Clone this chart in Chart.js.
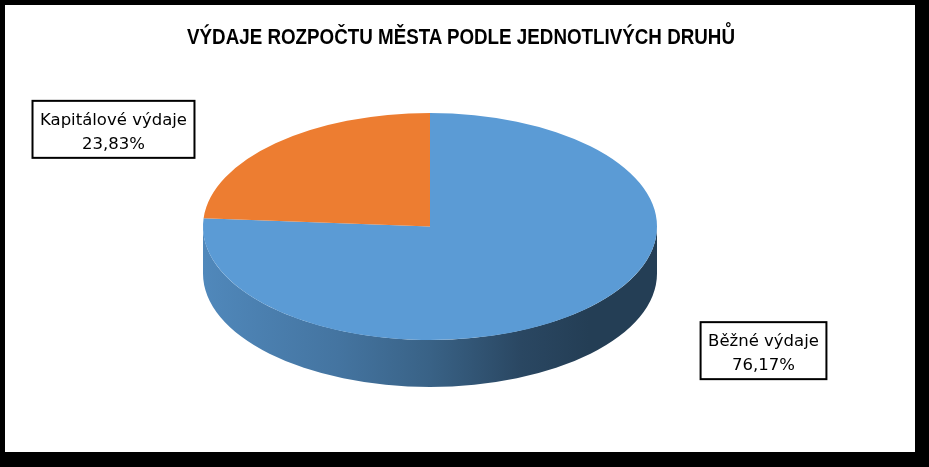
<!DOCTYPE html>
<html>
<head>
<meta charset="utf-8">
<script src="https://cdn.jsdelivr.net/npm/chart.js@4.4.1/dist/chart.umd.min.js"></script>
<style>
  html, body { margin: 0; padding: 0; background: #000; width: 929px; height: 467px; overflow: hidden; }
  #frame { position: absolute; left: 5px; top: 5px; width: 910px; height: 447px; background: #fff; }
  #title {
    position: absolute; left: 0; top: 25px; width: 922px; text-align: center;
    font: bold 22.8px/22.8px "Liberation Sans", sans-serif; color: #000;
    transform: scaleX(0.824); transform-origin: 461px 0;
  }
  canvas { position: absolute; left: 0; top: 0; }
</style>
</head>
<body>
<div id="frame"></div>
<canvas id="pie" width="929" height="467"></canvas>
<div id="title">VÝDAJE ROZPOČTU MĚSTA PODLE JEDNOTLIVÝCH DRUHŮ</div>
<script>
const CATEGORIES = ["Běžné výdaje", "Kapitálové výdaje"];
const VALUES = [76.17, 23.83];
const COLORS = ["#5B9BD5", "#ED7D31"];

// look of the fake 3d disc
const TILT = 0.5;
const SIDE_SHADE = [[0, 0.88], [0.3, 0.75], [0.5, 0.63], [0.7, 0.46], [0.85, 0.4], [1, 0.4]];
// where each boxed label sits, relative to the rim point at the slice middle
const LABEL_SHIFT = [[179, 41], [-162, -14]];

function shade(hex, f) {
  const n = parseInt(hex.slice(1), 16);
  const r = Math.round(((n >> 16) & 255) * f);
  const g = Math.round(((n >> 8) & 255) * f);
  const b = Math.round((n & 255) * f);
  return `rgb(${r},${g},${b})`;
}

function frontSpans(s, e) {
  const spans = [];
  for (let k = -1; k <= 1; k++) {
    const lo = Math.max(s, k * 2 * Math.PI);
    const hi = Math.min(e, k * 2 * Math.PI + Math.PI);
    if (hi > lo) spans.push([lo, hi]);
  }
  return spans;
}

const pie3d = {
  id: "pie3d",
  beforeDatasetsDraw(chart) {
    const { ctx, chartArea: a } = chart;
    const arcs = chart.getDatasetMeta(0).data;
    const first = arcs[0];
    const rx = a.width / 2;
    const ry = rx * TILT;
    const depth = a.height - 2 * ry;
    const cx = first.x;
    const cy = a.top + ry;
    chart.$disc = { cx, cy, rx, ry };

    arcs.forEach((arc, i) => {
      const grad = ctx.createLinearGradient(cx - rx, 0, cx + rx, 0);
      SIDE_SHADE.forEach(([pos, f]) => grad.addColorStop(pos, shade(COLORS[i], f)));
      frontSpans(arc.startAngle, arc.endAngle).forEach(([lo, hi]) => {
        ctx.beginPath();
        ctx.ellipse(cx, cy, rx, ry, 0, lo, hi, false);
        ctx.ellipse(cx, cy + depth, rx, ry, 0, hi, lo, true);
        ctx.closePath();
        ctx.fillStyle = grad;
        ctx.fill();
      });
    });

    // squash the flat pie onto the top face
    const R = first.outerRadius;
    ctx.save();
    ctx.translate(cx, cy);
    ctx.scale(rx / R, ry / R);
    ctx.translate(-first.x, -first.y);
  },
  afterDatasetsDraw(chart) {
    const { ctx } = chart;
    ctx.restore();

    const { cx, cy, rx, ry } = chart.$disc;
    const total = VALUES.reduce((s, v) => s + v, 0);
    chart.getDatasetMeta(0).data.forEach((arc, i) => {
      const mid = (arc.startAngle + arc.endAngle) / 2;
      const x = cx + rx * Math.cos(mid) + LABEL_SHIFT[i][0];
      const y = cy + ry * Math.sin(mid) + LABEL_SHIFT[i][1];
      const lines = [CATEGORIES[i], (VALUES[i] / total * 100).toFixed(2).replace(".", ",") + "%"];

      ctx.save();
      ctx.font = '16.5px "DejaVu Sans", sans-serif';
      const w = Math.max(...lines.map(t => ctx.measureText(t).width)) + 15;
      const h = 57;
      ctx.fillStyle = "#fff";
      ctx.fillRect(x - w / 2, y - h / 2, w, h);
      ctx.lineWidth = 2;
      ctx.strokeStyle = "#000";
      ctx.strokeRect(x - w / 2, y - h / 2, w, h);
      ctx.fillStyle = "#000";
      ctx.textAlign = "center";
      ctx.textBaseline = "alphabetic";
      ctx.fillText(lines[0], x, y - 4.5);
      ctx.fillText(lines[1], x, y + 19.5);
      ctx.restore();
    });
  }
};

new Chart(document.getElementById("pie"), {
  type: "pie",
  data: {
    labels: CATEGORIES,
    datasets: [{
      data: VALUES,
      backgroundColor: COLORS,
      borderWidth: 0,
      clip: false
    }]
  },
  options: {
    responsive: false,
    animation: false,
    events: [],
    layout: { padding: { left: 203, right: 272, top: 113, bottom: 80 } },
    plugins: {
      legend: { display: false },
      tooltip: { enabled: false },
      title: { display: false }
    }
  },
  plugins: [pie3d]
});
</script>
</body>
</html>
